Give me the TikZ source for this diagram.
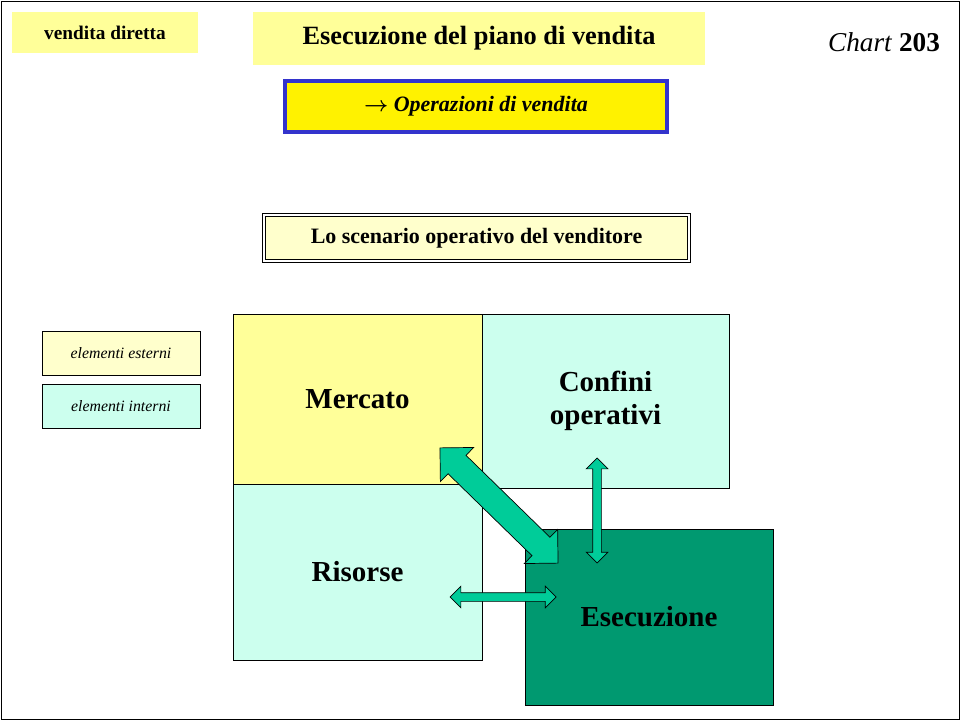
\documentclass[tikz,border=0pt]{standalone}
\usepackage{amsmath}
\usepackage{fontspec}
\setmainfont{Liberation Serif}
\usetikzlibrary{shapes.arrows}
\definecolor{paleyellow}{RGB}{255,255,153}
\definecolor{creamyellow}{RGB}{255,255,204}
\definecolor{palecyan}{RGB}{204,255,238}
\definecolor{darkteal}{RGB}{0,153,112}
\definecolor{arrowgreen}{RGB}{0,204,153}
\definecolor{framblue}{RGB}{51,51,204}
\tikzset{
  field/.style={draw, thin, font=\bfseries\fontsize{16.5}{19}\selectfont, align=center, inner sep=0pt},
  legendbox/.style={draw, thin, minimum width=3.16cm, minimum height=0.88cm, font=\itshape\fontsize{9}{11}\selectfont},
  headbox/.style={draw=black, double=white, double distance=1.2pt, font=\bfseries},
  linkarrow/.style={double arrow, draw, thin, fill=arrowgreen, inner xsep=0pt, inner ysep=0.08cm, double arrow head extend=0.13cm},
}
\begin{document}
\begin{tikzpicture}
\useasboundingbox (0,0) rectangle (19.2,14.4);
\draw[thin] (0.02,0.02) rectangle (19.18,14.38);

% heading
\node[fill=paleyellow, minimum width=3.72cm, minimum height=0.82cm, font=\bfseries\fontsize{11}{13}\selectfont] (kind) at (2.1,13.75) {vendita diretta};
\node[headbox, fill=paleyellow, minimum width=9.1cm, minimum height=1.12cm, font=\bfseries\fontsize{15}{17}\selectfont] (title) at (9.58,13.63) {Esecuzione del piano di vendita};
\node (chart) at (17.68,13.56) {\fontsize{15.5}{17}\selectfont\textit{Chart}\ \textbf{203}};
\node[draw=framblue, line width=2.5pt, fill=yellow, minimum width=7.65cm, minimum height=1.03cm, font=\bfseries\itshape\fontsize{12.5}{14}\selectfont] (ops) at (9.52,12.27) {$\boldsymbol{\rightarrow}$ Operazioni di vendita};
\node[headbox, fill=creamyellow, minimum width=8.5cm, minimum height=0.92cm, font=\bfseries\fontsize{12.5}{14}\selectfont] (scene) at (9.53,9.64) {Lo scenario operativo del venditore};

% legend
\node[legendbox, fill=creamyellow] (ext) at (2.42,7.34) {elementi esterni};
\node[legendbox, fill=palecyan] (int) at (2.42,6.28) {elementi interni};

% fields
\node[field, fill=paleyellow, minimum width=4.98cm, minimum height=3.4cm] (market) at (7.15,6.42) {Mercato};
\node[field, fill=palecyan, minimum width=4.98cm, minimum height=3.52cm] (res) at (7.15,2.96) {Risorse};
\node[field, fill=palecyan, minimum width=4.94cm, minimum height=3.48cm] (bounds) at (12.11,6.38) {Confini\\operativi};
\node[field, fill=darkteal, minimum width=4.96cm, minimum height=3.52cm] (exec) at (12.98,2.06) {Esecuzione};

% links
\node[linkarrow, minimum height=3.3cm, inner ysep=0.25cm, double arrow head extend=0.22cm, rotate=-44.3] (diag) at (9.98,4.29) {};
\node[linkarrow, minimum height=2.1cm, rotate=90] (vert) at (11.94,4.19) {};
\node[linkarrow, minimum height=2.12cm] (horiz) at (10.06,2.46) {};
\end{tikzpicture}
\end{document}
